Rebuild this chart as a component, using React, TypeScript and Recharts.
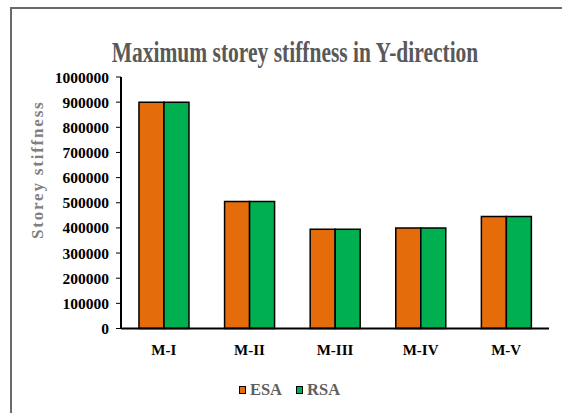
import React from "react";
import { BarChart, Bar, XAxis, YAxis, Legend } from "recharts";

const categories = ["M-I", "M-II", "M-III", "M-IV", "M-V"];
const esaValues = [900000, 505000, 395000, 400000, 445000];
const rsaValues = [900000, 505000, 395000, 400000, 445000];
const yTicks = [0, 100000, 200000, 300000, 400000, 500000, 600000, 700000, 800000, 900000, 1000000];
const seriesNames = ["ESA", "RSA"];
const yLabel = "Storey stiffness";
const title = "Maximum storey stiffness in Y-direction";

const data = categories.map((c, i) => ({ name: c, ESA: esaValues[i], RSA: rsaValues[i] }));

const ORANGE = "#E46C0A";
const GREEN = "#00B050";
const COLORS = [ORANGE, GREEN];
const FONT = "'Liberation Serif', 'Times New Roman', serif";

const LegendContent = () => (
  <div
    style={{
      display: "flex",
      justifyContent: "center",
      alignItems: "center",
      height: 22,
      paddingLeft: 30,
      position: "relative",
      top: 3,
    }}
  >
    {seriesNames.map((label, i) => (
      <span key={label} style={{ display: "inline-flex", alignItems: "center", marginRight: i === 0 ? 14 : 0 }}>
        <span
          style={{
            display: "inline-block",
            width: 5,
            height: 6,
            background: COLORS[i],
            border: "1.5px solid #000",
            marginRight: 4,
          }}
        />
        <span style={{ fontFamily: FONT, fontSize: 16.5, fontWeight: "bold", color: "#5f5f5f" }}>{label}</span>
      </span>
    ))}
  </div>
);

const YLabel = (props: any) => {
  const vb = props.viewBox || { x: 0, y: 0, width: 0, height: 0 };
  const x = vb.x + 37.5;
  const y = vb.y + vb.height / 2 - 33;
  return (
    <text
      x={x}
      y={y}
      transform={`rotate(-90 ${x} ${y})`}
      textAnchor="middle"
      dominantBaseline="central"
      style={{ fontFamily: FONT, fontSize: 17, fontWeight: "bold", fill: "#808080", letterSpacing: 1.8 }}
    >
      {yLabel}
    </text>
  );
};

export default function App() {
  return (
    <div style={{ position: "absolute", left: 0, top: 0, width: 562, height: 413, background: "#fff", overflow: "hidden" }}>
      <div
        style={{
          position: "absolute",
          left: 10,
          top: 7,
          width: 600,
          height: 450,
          borderLeft: "2px solid #6a6a6a",
          borderTop: "2px solid #6a6a6a",
        }}
      />
      <div
        style={{
          position: "absolute",
          left: 0,
          top: 39,
          width: 590,
          textAlign: "center",
          fontFamily: FONT,
          fontWeight: "bold",
          fontSize: 21.5,
          lineHeight: "28px",
          color: "#595959",
          transform: "scaleY(1.35)",
          transformOrigin: "50% 50%",
        }}
      >
        {title}
      </div>
      <div style={{ position: "absolute", left: 0, top: 0 }}>
        <BarChart
          width={562}
          height={413}
          data={data}
          margin={{ top: 77, right: 13, left: 0, bottom: 15 }}
          barCategoryGap="21%"
          barGap={0}
        >
          <XAxis
            dataKey="name"
            height={47.5}
            tickLine={false}
            tickSize={0}
            tickMargin={16}
            axisLine={{ stroke: "#000", strokeWidth: 2 }}
            tick={{ fontFamily: FONT, fontSize: 15, fontWeight: "bold", fill: "#000" }}
          />
          <XAxis xAxisId="top" orientation="top" dataKey="name" height={0} tick={false} tickLine={false} axisLine={{ stroke: "#000", strokeWidth: 2 }} />
          <YAxis
            width={121}
            domain={[0, 1000000]}
            ticks={yTicks}
            interval={0}
            tickSize={5}
            tickMargin={7}
            tickLine={{ stroke: "#000", strokeWidth: 1 }}
            axisLine={{ stroke: "#000", strokeWidth: 2 }}
            tick={{ fontFamily: FONT, fontSize: 15.5, fontWeight: "bold", fill: "#000" }}
            label={<YLabel />}
          />
          <YAxis yAxisId="right" orientation="right" width={0} tick={false} tickLine={false} axisLine={{ stroke: "#000", strokeWidth: 2 }} />
          <Legend verticalAlign="bottom" align="center" content={<LegendContent />} />
          <Bar dataKey="ESA" fill={ORANGE} stroke="#000" strokeWidth={1.5} isAnimationActive={false} />
          <Bar dataKey="RSA" fill={GREEN} stroke="#000" strokeWidth={1.5} isAnimationActive={false} />
        </BarChart>
      </div>
    </div>
  );
}
